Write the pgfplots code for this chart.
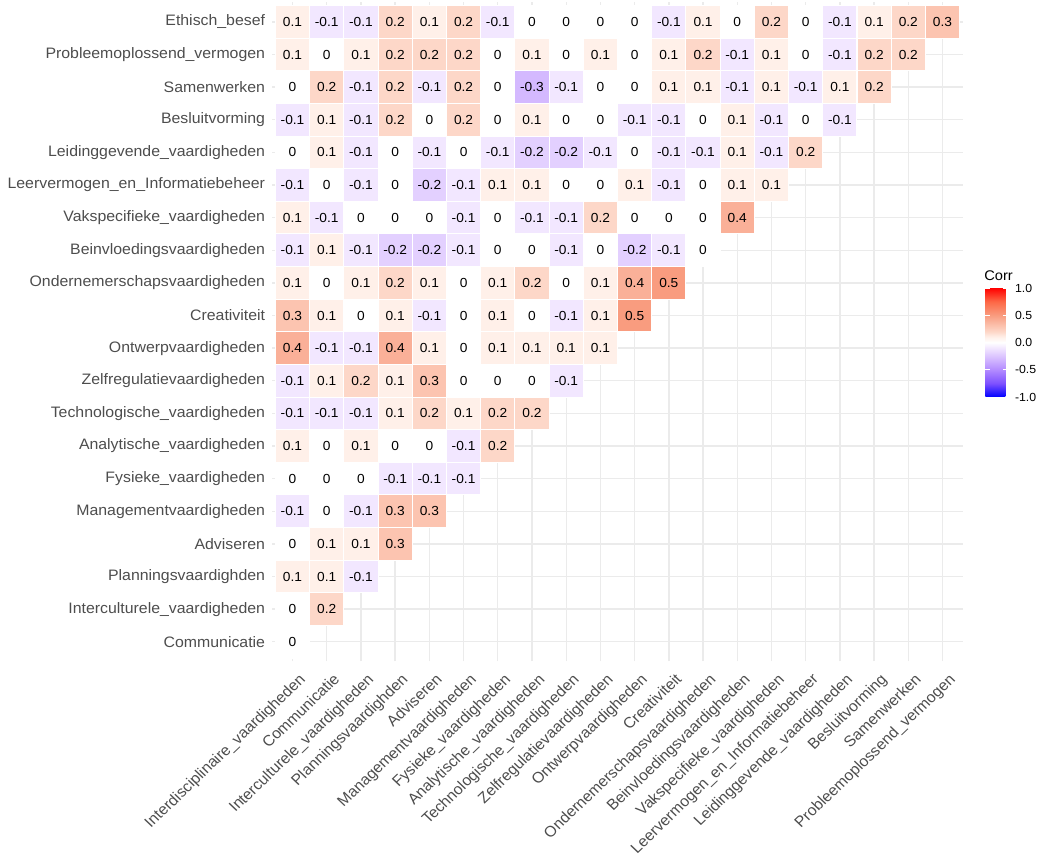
\documentclass[border=0pt]{standalone}
\usepackage{fontspec}
\setmainfont{Liberation Sans}
\usepackage{graphicx}
\usepackage{pgfplots}
\pgfplotsset{compat=1.18}
\usepackage{pgfplotstable}
\definecolor{axtext}{RGB}{77,77,77}
\definecolor{gridc}{RGB}{235,235,235}
\pgfdeclareplotmark{tile}{%
  \pgfsetlinewidth{0.72pt}%
  \pgfpathrectangle{\pgfpoint{-12.24pt}{-12.235pt}}{\pgfpoint{24.48pt}{24.47pt}}%
  \pgfusepathqfillstroke}
\pgfdeclareplotmark{nomark}{}
\pgfplotstableread[row sep=\\]{
x y v\\
1 20 0.1\\ 2 20 -0.1\\ 3 20 -0.1\\ 4 20 0.2\\ 5 20 0.1\\ 6 20 0.2\\ 7 20 -0.1\\ 8 20 0\\ 9 20 0\\ 10 20 0\\ 11 20 0\\ 12 20 -0.1\\ 13 20 0.1\\ 14 20 0\\ 15 20 0.2\\ 16 20 0\\ 17 20 -0.1\\ 18 20 0.1\\ 19 20 0.2\\ 20 20 0.3\\
1 19 0.1\\ 2 19 0\\ 3 19 0.1\\ 4 19 0.2\\ 5 19 0.2\\ 6 19 0.2\\ 7 19 0\\ 8 19 0.1\\ 9 19 0\\ 10 19 0.1\\ 11 19 0\\ 12 19 0.1\\ 13 19 0.2\\ 14 19 -0.1\\ 15 19 0.1\\ 16 19 0\\ 17 19 -0.1\\ 18 19 0.2\\ 19 19 0.2\\
1 18 0\\ 2 18 0.2\\ 3 18 -0.1\\ 4 18 0.2\\ 5 18 -0.1\\ 6 18 0.2\\ 7 18 0\\ 8 18 -0.3\\ 9 18 -0.1\\ 10 18 0\\ 11 18 0\\ 12 18 0.1\\ 13 18 0.1\\ 14 18 -0.1\\ 15 18 0.1\\ 16 18 -0.1\\ 17 18 0.1\\ 18 18 0.2\\
1 17 -0.1\\ 2 17 0.1\\ 3 17 -0.1\\ 4 17 0.2\\ 5 17 0\\ 6 17 0.2\\ 7 17 0\\ 8 17 0.1\\ 9 17 0\\ 10 17 0\\ 11 17 -0.1\\ 12 17 -0.1\\ 13 17 0\\ 14 17 0.1\\ 15 17 -0.1\\ 16 17 0\\ 17 17 -0.1\\
1 16 0\\ 2 16 0.1\\ 3 16 -0.1\\ 4 16 0\\ 5 16 -0.1\\ 6 16 0\\ 7 16 -0.1\\ 8 16 -0.2\\ 9 16 -0.2\\ 10 16 -0.1\\ 11 16 0\\ 12 16 -0.1\\ 13 16 -0.1\\ 14 16 0.1\\ 15 16 -0.1\\ 16 16 0.2\\
1 15 -0.1\\ 2 15 0\\ 3 15 -0.1\\ 4 15 0\\ 5 15 -0.2\\ 6 15 -0.1\\ 7 15 0.1\\ 8 15 0.1\\ 9 15 0\\ 10 15 0\\ 11 15 0.1\\ 12 15 -0.1\\ 13 15 0\\ 14 15 0.1\\ 15 15 0.1\\
1 14 0.1\\ 2 14 -0.1\\ 3 14 0\\ 4 14 0\\ 5 14 0\\ 6 14 -0.1\\ 7 14 0\\ 8 14 -0.1\\ 9 14 -0.1\\ 10 14 0.2\\ 11 14 0\\ 12 14 0\\ 13 14 0\\ 14 14 0.4\\
1 13 -0.1\\ 2 13 0.1\\ 3 13 -0.1\\ 4 13 -0.2\\ 5 13 -0.2\\ 6 13 -0.1\\ 7 13 0\\ 8 13 0\\ 9 13 -0.1\\ 10 13 0\\ 11 13 -0.2\\ 12 13 -0.1\\ 13 13 0\\
1 12 0.1\\ 2 12 0\\ 3 12 0.1\\ 4 12 0.2\\ 5 12 0.1\\ 6 12 0\\ 7 12 0.1\\ 8 12 0.2\\ 9 12 0\\ 10 12 0.1\\ 11 12 0.4\\ 12 12 0.5\\
1 11 0.3\\ 2 11 0.1\\ 3 11 0\\ 4 11 0.1\\ 5 11 -0.1\\ 6 11 0\\ 7 11 0.1\\ 8 11 0\\ 9 11 -0.1\\ 10 11 0.1\\ 11 11 0.5\\
1 10 0.4\\ 2 10 -0.1\\ 3 10 -0.1\\ 4 10 0.4\\ 5 10 0.1\\ 6 10 0\\ 7 10 0.1\\ 8 10 0.1\\ 9 10 0.1\\ 10 10 0.1\\
1 9 -0.1\\ 2 9 0.1\\ 3 9 0.2\\ 4 9 0.1\\ 5 9 0.3\\ 6 9 0\\ 7 9 0\\ 8 9 0\\ 9 9 -0.1\\
1 8 -0.1\\ 2 8 -0.1\\ 3 8 -0.1\\ 4 8 0.1\\ 5 8 0.2\\ 6 8 0.1\\ 7 8 0.2\\ 8 8 0.2\\
1 7 0.1\\ 2 7 0\\ 3 7 0.1\\ 4 7 0\\ 5 7 0\\ 6 7 -0.1\\ 7 7 0.2\\
1 6 0\\ 2 6 0\\ 3 6 0\\ 4 6 -0.1\\ 5 6 -0.1\\ 6 6 -0.1\\
1 5 -0.1\\ 2 5 0\\ 3 5 -0.1\\ 4 5 0.3\\ 5 5 0.3\\
1 4 0\\ 2 4 0.1\\ 3 4 0.1\\ 4 4 0.3\\
1 3 0.1\\ 2 3 0.1\\ 3 3 -0.1\\
1 2 0\\ 2 2 0.2\\
1 1 0\\
}\corrdata
\begin{document}
\scalebox{1.048}[1]{%
\begin{tikzpicture}
\path[use as bounding box] (-194.66pt,-144.5pt) rectangle (550.34pt,496pt);
\begin{axis}[
  at={(0pt,0pt)}, anchor=south west,
  scale only axis, width=494.56pt, height=494.25pt,
  xmin=0.4, xmax=20.6, ymin=0.4, ymax=20.6,
  clip=false,
  xtick={1,...,20}, ytick={1,...,20},
  xticklabels={Interdisciplinaire\_vaardigheden, Communicatie, Interculturele\_vaardigheden, Planningsvaardighden, Adviseren, Managementvaardigheden, Fysieke\_vaardigheden, Analytische\_vaardigheden, Technologische\_vaardigheden, Zelfregulatievaardigheden, Ontwerpvaardigheden, Creativiteit, Ondernemerschapsvaardigheden, Beinvloedingsvaardigheden, Vakspecifieke\_vaardigheden, Leervermogen\_en\_Informatiebeheer, Leidinggevende\_vaardigheden, Besluitvorming, Samenwerken, Probleemoplossend\_vermogen},
  yticklabels={Communicatie, Interculturele\_vaardigheden, Planningsvaardighden, Adviseren, Managementvaardigheden, Fysieke\_vaardigheden, Analytische\_vaardigheden, Technologische\_vaardigheden, Zelfregulatievaardigheden, Ontwerpvaardigheden, Creativiteit, Ondernemerschapsvaardigheden, Beinvloedingsvaardigheden, Vakspecifieke\_vaardigheden, Leervermogen\_en\_Informatiebeheer, Leidinggevende\_vaardigheden, Besluitvorming, Samenwerken, Probleemoplossend\_vermogen, Ethisch\_besef},
  grid=major, major grid style={draw=gridc, line width=1pt},
  axis line style={draw=none},
  major tick length=0pt,
  tick label style={text=axtext},
  yticklabel style={font=\fontsize{11.35}{13.5}\selectfont, anchor=east, inner sep=0pt, xshift=-4.77pt},
  xticklabel style={font=\fontsize{11.35}{13.5}\selectfont, rotate=45, anchor=north east, inner sep=0pt, xshift=-3pt, yshift=-8.5pt},
  colormap={corr}{rgb255(0cm)=(0,0,255); rgb255(2.5cm)=(126,81,255); rgb255(5cm)=(179,139,255); rgb255(7cm)=(212,185,255); rgb255(8cm)=(227,208,255); rgb255(9cm)=(242,231,255); rgb255(10cm)=(255,255,255); rgb255(11cm)=(255,240,233); rgb255(12cm)=(253,215,200); rgb255(13cm)=(252,196,176); rgb255(14cm)=(250,176,152); rgb255(15cm)=(249,156,127); rgb255(17.5cm)=(253,104,70); rgb255(20cm)=(255,0,0)},
  point meta min=-1, point meta max=1,
  colorbar,
  colorbar style={
    at={(parent axis.south west)}, anchor=north west,
    xshift=502.05pt, yshift=280pt,
    scale only axis, width=15.74pt, height=81.75pt,
    ytick={-1,-0.5,0,0.5,1},
    yticklabels={-1.0,-0.5,0.0,0.5,1.0},
    yticklabel style={font=\fontsize{8.8}{10.5}\selectfont, text=black, inner sep=0pt, anchor=west, xshift=5.25pt},
    axis line style={draw=none},
    major tick length=3pt, tick align=inside,
    ytick pos=both, yticklabel pos=right,
    major tick style={draw=white, line width=0.6pt},
  },
]
\addplot[scatter, only marks, mark=tile,
  scatter/use mapped color={draw=white, fill=mapped color},
  point meta=\thisrow{v},
] table[x=x, y=y] {\corrdata};
\addplot[only marks, mark=nomark,
  point meta=\thisrow{v},
  nodes near coords={\pgfmathprintnumber[assume math mode=true]{\pgfplotspointmeta}},
  nodes near coords align={center},
  every node near coord/.append style={font=\fontsize{9.83}{11.5}\selectfont, text=black, inner sep=0pt, anchor=center},
] table[x=x, y=y] {\corrdata};
\node[anchor=base west, inner sep=0pt, font=\fontsize{10.5}{12.5}\selectfont] at (rel axis cs:1.0304,0.5775) {Corr};
\end{axis}
\end{tikzpicture}}
\end{document}
